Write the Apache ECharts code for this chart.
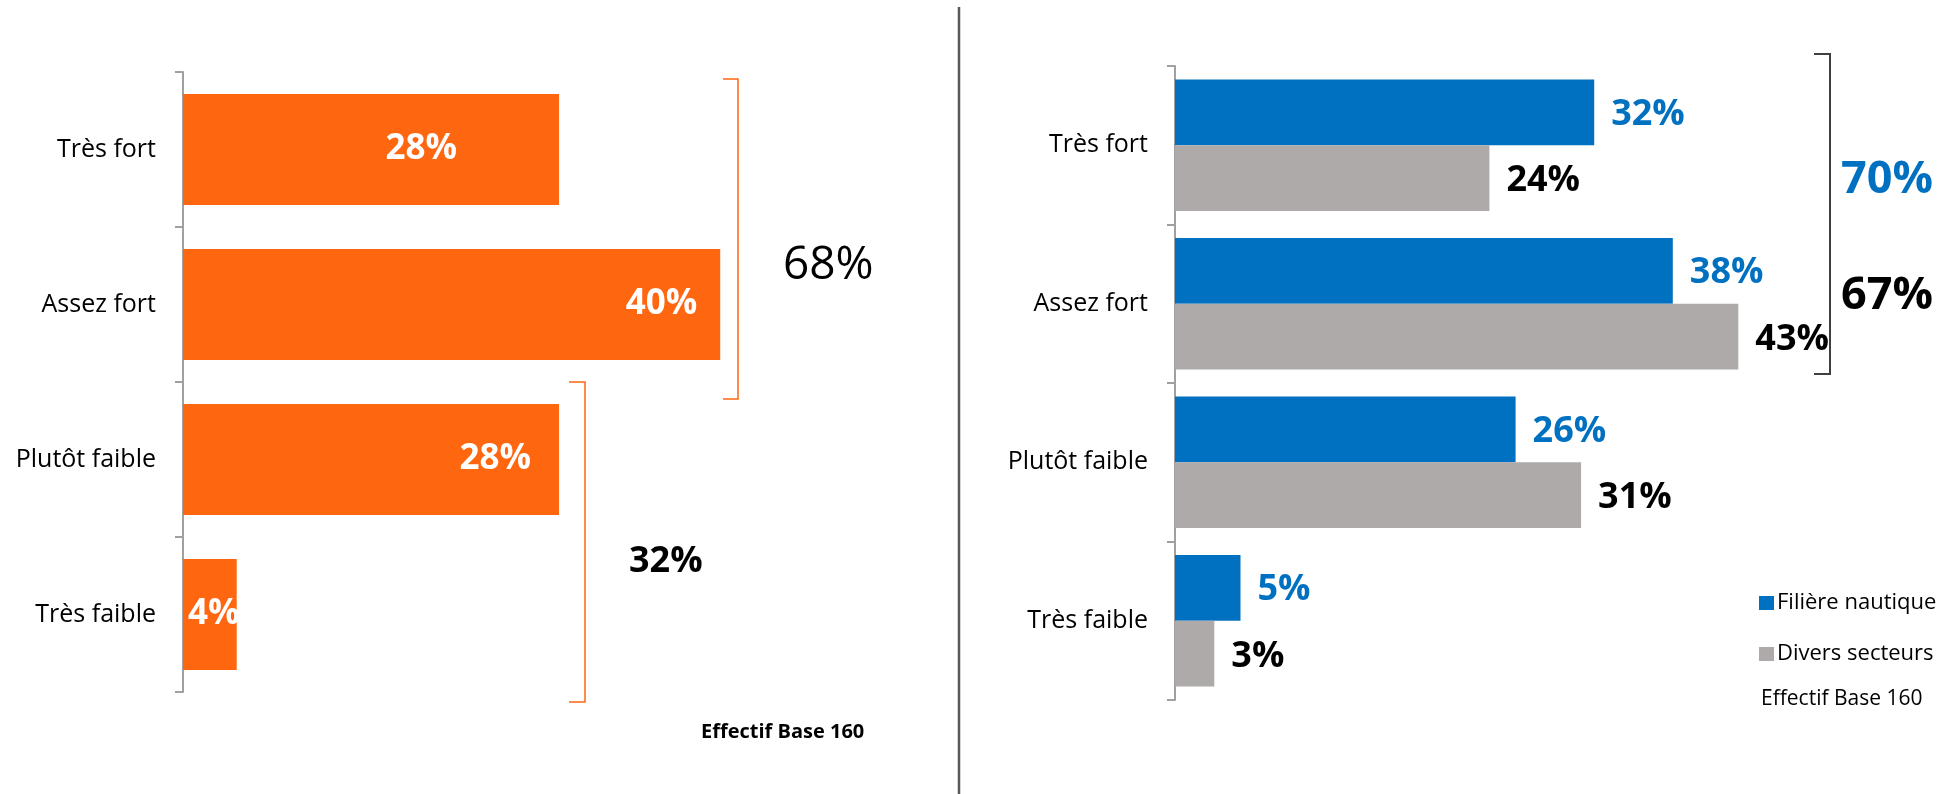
<!DOCTYPE html>
<html>
<head>
<meta charset="utf-8">
<script src="https://cdn.jsdelivr.net/npm/echarts@6/dist/echarts.min.js"></script>
<style>
  html, body { margin: 0; padding: 0; background: #ffffff; }
  #chart { width: 1956px; height: 794px; }
</style>
</head>
<body>
<div id="chart"></div>
<script>
// Niveaux de réponse (du plus fort au plus faible)
const categories = ['Très fort', 'Assez fort', 'Plutôt faible', 'Très faible'];

// Graphique de gauche : ensemble des répondants
const totalValues = [28, 40, 28, 4];

// Graphique de droite : comparaison par secteur
const nautiqueName = 'Filière nautique';
const nautiqueValues = [32, 38, 26, 5];
const diversName = 'Divers secteurs';
const diversValues = [24, 43, 31, 3];

const baseNote = 'Effectif Base 160';

const ORANGE = '#FF6610';
const BLUE = '#0070C0';
const GREY = '#AEAAAA';
const AXIS_GREY = '#A0A0A0';
const FONT = '"Open Sans", "Noto Sans", sans-serif';

const pct = v => v + '%';
const sum = arr => arr.reduce((a, b) => a + b, 0);

// Totaux des accolades : fort (2 premiers niveaux) / faible (2 derniers)
const totalFort = sum(totalValues.slice(0, 2));
const totalFaible = sum(totalValues.slice(2));
const nautiqueFort = sum(nautiqueValues.slice(0, 2));
const diversFort = sum(diversValues.slice(0, 2));

// Placement des étiquettes dans les barres orange
const leftLabelPlacement = [
  { position: 'insideRight', distance: 102 },
  { position: 'insideRight', distance: 23 },
  { position: 'insideRight', distance: 28 },
  { position: 'insideLeft', distance: 5 }
];

const leftData = totalValues.map((v, i) => ({
  value: v,
  label: leftLabelPlacement[i]
}));

const categoryAxis = (gridIndex) => ({
  type: 'category',
  gridIndex: gridIndex,
  data: categories,
  inverse: true,
  boundaryGap: true,
  axisLine: { show: true, lineStyle: { color: AXIS_GREY, width: 2 } },
  axisTick: { show: true, length: 8, lineStyle: { color: AXIS_GREY, width: 2 } },
  axisLabel: { margin: 27, color: '#000000', fontFamily: FONT, fontSize: 25 },
  splitLine: { show: false }
});

const valueAxis = (gridIndex) => ({
  type: 'value',
  gridIndex: gridIndex,
  min: 0,
  max: 50,
  show: false
});

const chart = echarts.init(document.getElementById('chart'), null, { renderer: 'canvas' });

const option = {
  backgroundColor: '#ffffff',
  animation: false,
  textStyle: { fontFamily: FONT },
  grid: [
    { left: 183, top: 72, width: 671.5, height: 620 },
    { left: 1175, top: 66, width: 655, height: 634 }
  ],
  xAxis: [valueAxis(0), valueAxis(1)],
  yAxis: [categoryAxis(0), categoryAxis(1)],
  legend: {
    orient: 'vertical',
    left: 1754,
    top: 585,
    itemWidth: 15,
    itemHeight: 14,
    itemGap: 25,
    icon: 'rect',
    data: [nautiqueName, diversName],
    textStyle: { fontFamily: FONT, fontSize: 22, color: '#000000', lineHeight: 26, padding: [0, 0, 0, -2] }
  },
  series: [
    {
      type: 'bar',
      name: 'Ensemble',
      xAxisIndex: 0,
      yAxisIndex: 0,
      data: leftData,
      barCategoryGap: '28.4%',
      itemStyle: { color: ORANGE },
      label: {
        show: true,
        formatter: p => pct(p.value),
        color: '#ffffff',
        fontFamily: FONT,
        fontWeight: 'bold',
        fontSize: 35
      }
    },
    {
      type: 'bar',
      name: nautiqueName,
      xAxisIndex: 1,
      yAxisIndex: 1,
      data: nautiqueValues,
      barCategoryGap: '17%',
      barGap: '0%',
      itemStyle: { color: BLUE },
      label: {
        show: true,
        position: 'right',
        distance: 17,
        offset: [0, 2],
        formatter: p => pct(p.value),
        color: BLUE,
        fontFamily: FONT,
        fontWeight: 'bold',
        fontSize: 36
      }
    },
    {
      type: 'bar',
      name: diversName,
      xAxisIndex: 1,
      yAxisIndex: 1,
      data: diversValues,
      barCategoryGap: '17%',
      barGap: '0%',
      itemStyle: { color: GREY },
      label: {
        show: true,
        position: 'right',
        distance: 17,
        offset: [0, 3],
        formatter: p => pct(p.value),
        color: '#000000',
        fontFamily: FONT,
        fontWeight: 'bold',
        fontSize: 36
      }
    }
  ],
  graphic: [
    // séparateur vertical entre les deux graphiques
    { type: 'line', shape: { x1: 959, y1: 7, x2: 959, y2: 794 },
      style: { stroke: '#595959', lineWidth: 2.5 } },

    // accolade « fort » (gauche)
    { type: 'polyline', shape: { points: [[723, 79], [738, 79], [738, 399], [723, 399]] },
      style: { stroke: ORANGE, lineWidth: 1.5, fill: null } },
    // accolade « faible » (gauche)
    { type: 'polyline', shape: { points: [[569, 382], [585, 382], [585, 702], [569, 702]] },
      style: { stroke: ORANGE, lineWidth: 1.5, fill: null } },

    { type: 'text', left: 783, top: 243, style: {
        text: pct(totalFort), fill: '#000000', font: '46px ' + FONT,
        textVerticalAlign: 'middle' } },
    { type: 'text', left: 629, top: 544, style: {
        text: pct(totalFaible), fill: '#000000', font: 'bold 36px ' + FONT,
        textVerticalAlign: 'middle' } },
    { type: 'text', left: 701, top: 722, style: {
        text: baseNote, fill: '#000000', font: 'bold 20px ' + FONT,
        textVerticalAlign: 'middle' } },

    // accolade « fort » (droite)
    { type: 'polyline', shape: { points: [[1814, 54], [1830, 54], [1830, 374], [1814, 374]] },
      style: { stroke: '#404040', lineWidth: 2, fill: null } },
    { type: 'text', left: 1841, top: 158, style: {
        text: pct(nautiqueFort), fill: BLUE, font: 'bold 45px ' + FONT,
        textVerticalAlign: 'middle' } },
    { type: 'text', left: 1841, top: 274, style: {
        text: pct(diversFort), fill: '#000000', font: 'bold 45px ' + FONT,
        textVerticalAlign: 'middle' } },
    { type: 'text', left: 1761, top: 689, style: {
        text: baseNote, fill: '#000000', font: '21px ' + FONT,
        textVerticalAlign: 'middle' } }
  ]
};

chart.setOption(option);
</script>
</body>
</html>
